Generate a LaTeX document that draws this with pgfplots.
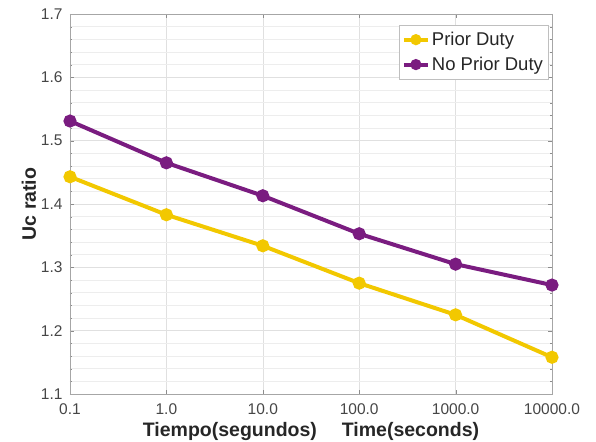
\documentclass[border=0pt]{standalone}
\usepackage{pgfplots}
\pgfplotsset{compat=1.18}
\usepackage{fontspec}
\setmainfont{Liberation Sans}
\definecolor{pyellow}{RGB}{242,200,0}
\definecolor{ppurple}{RGB}{122,28,128}
\definecolor{tickgray}{RGB}{70,70,70}
\begin{document}
\begin{tikzpicture}
\useasboundingbox (0pt,0pt) rectangle (596pt,441pt);
\begin{axis}[
  at={(70pt,47pt)}, anchor=south west,
  scale only axis, width=482pt, height=380pt,
  xmode=log, log basis x=10,
  xmin=0.1, xmax=10000, ymin=1.1, ymax=1.7,
  xtick={0.1,1,10,100,1000,10000},
  xticklabels={0.1,1.0,10.0,100.0,1000.0,10000.0},
  ytick={1.1,1.2,1.3,1.4,1.5,1.6,1.7},
  yticklabels={1.1,1.2,1.3,1.4,1.5,1.6,1.7},
  minor y tick num=4,
  grid=both,
  major grid style={draw=black!12, line width=0.5pt},
  minor grid style={draw=black!7, line width=0.4pt},
  axis line style={draw=black!35, line width=0.8pt},
  tick style={draw=black!45},
  tick align=inside,
  major tick length=4pt, minor tick length=2pt,
  ticklabel style={font=\fontsize{15.5}{17}\selectfont, text=tickgray},
  xticklabel style={yshift=-6pt},
  yticklabel style={xshift=-4pt},
  xlabel={\textbf{Tiempo(segundos)\quad\ Time(seconds)}},
  ylabel={\textbf{Uc ratio}},
  label style={font=\fontsize{19.5}{21}\selectfont, text=black!85},
  xlabel style={yshift=-0.5pt},
  ylabel style={yshift=-2pt},
  legend style={at={(0.992,0.971)}, anchor=north east, draw=black!25,
    font=\fontsize{18.5}{20}\selectfont, text=black!85, row sep=6pt,
    inner xsep=3pt, inner ysep=5pt},
  legend cell align=left,
  legend image code/.code={\draw[#1,mark repeat=2,mark phase=2,mark size=3.5pt] plot coordinates {(0pt,0pt) (12pt,0pt) (24pt,0pt)};},
]
\addplot[color=pyellow, line width=4pt, mark=*, mark size=4.5pt] coordinates {
  (0.1,1.443) (1,1.383) (10,1.334) (100,1.275) (1000,1.225) (10000,1.158)};
\addlegendentry{Prior Duty}
\addplot[color=ppurple, line width=4pt, mark=*, mark size=4.5pt] coordinates {
  (0.1,1.531) (1,1.465) (10,1.413) (100,1.353) (1000,1.305) (10000,1.272)};
\addlegendentry{No Prior Duty\hspace{12pt}}
\end{axis}
\end{tikzpicture}
\end{document}
